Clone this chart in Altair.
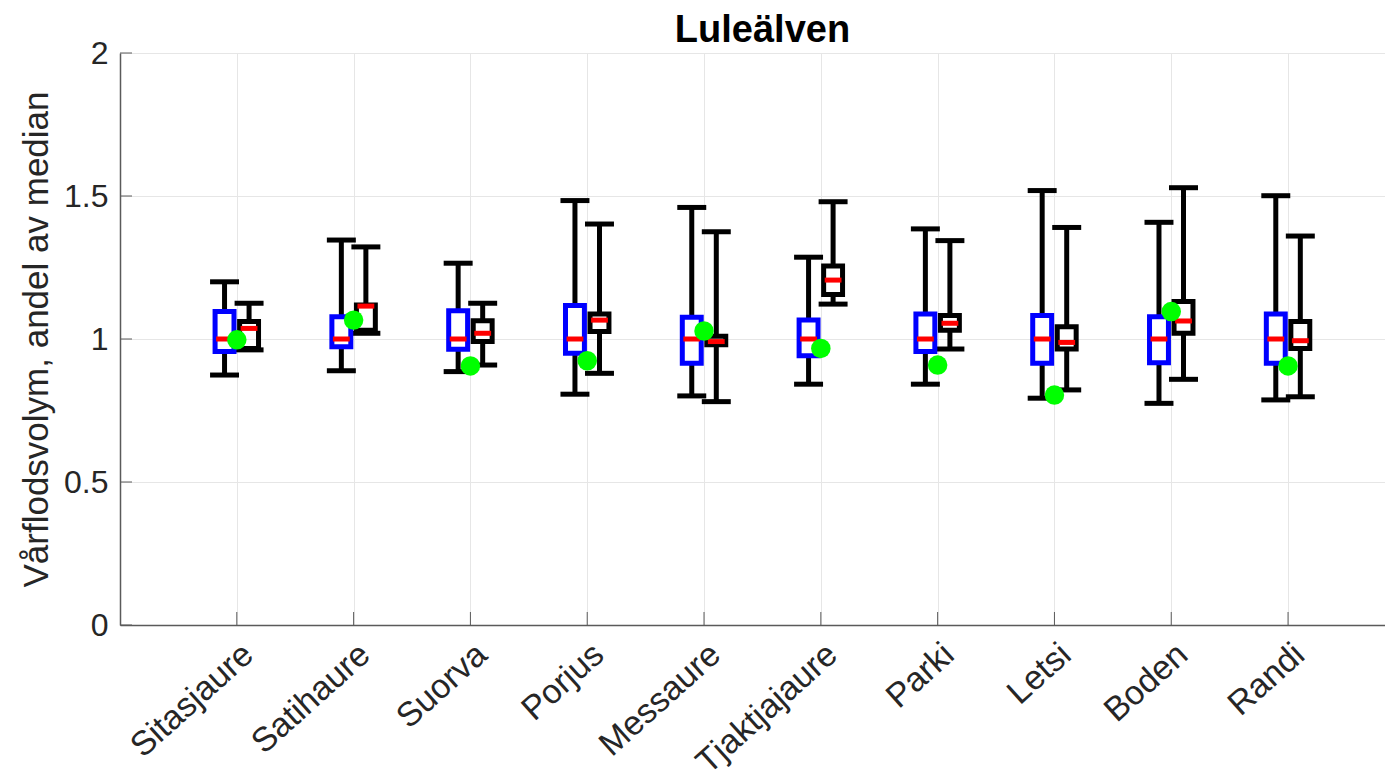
import altair as alt
import pandas as pd

stations = ["Sitasjaure", "Satihaure", "Suorva", "Porjus", "Messaure",
            "Tjaktjajaure", "Parki", "Letsi", "Boden", "Randi"]

# reference period (blue boxes)
ref_lo = [0.874, 0.889, 0.886, 0.807, 0.801, 0.842, 0.842, 0.793, 0.775, 0.787]
ref_q1 = [0.956, 0.973, 0.964, 0.950, 0.915, 0.941, 0.956, 0.915, 0.917, 0.915]
ref_med = [1.000, 1.000, 1.000, 1.000, 1.000, 1.000, 1.000, 1.000, 1.000, 1.000]
ref_q3 = [1.096, 1.078, 1.099, 1.117, 1.076, 1.066, 1.087, 1.082, 1.078, 1.087]
ref_hi = [1.200, 1.346, 1.265, 1.484, 1.460, 1.286, 1.385, 1.519, 1.408, 1.501]

# comparison period (black boxes)
cmp_lo = [0.962, 1.020, 0.909, 0.880, 0.781, 1.122, 0.965, 0.822, 0.859, 0.798]
cmp_q1 = [0.967, 1.031, 0.991, 1.026, 0.980, 1.156, 1.031, 0.965, 1.020, 0.967]
cmp_med = [1.037, 1.115, 1.020, 1.066, 0.991, 1.206, 1.055, 0.988, 1.063, 0.994]
cmp_q3 = [1.061, 1.119, 1.064, 1.087, 1.010, 1.255, 1.082, 1.043, 1.131, 1.061]
cmp_hi = [1.125, 1.322, 1.125, 1.402, 1.375, 1.480, 1.344, 1.390, 1.529, 1.360]

# single observed year (green dots)
obs = [0.997, 1.066, 0.906, 0.924, 1.028, 0.967, 0.909, 0.804, 1.096, 0.906]

y_ticks = [0, 0.5, 1, 1.5, 2]
x_ticks = list(range(1, len(stations) + 1))

OFF = 0.105
BOX_HALF = 0.081
CAP_HALF = 0.124
MED_HALF = 0.072

rows = []
for i, name in enumerate(stations):
    for grp, off, col, lo, q1, md, q3, hi in [
        ("ref", -OFF, "#0000ff", ref_lo[i], ref_q1[i], ref_med[i], ref_q3[i], ref_hi[i]),
        ("cmp", OFF, "#000000", cmp_lo[i], cmp_q1[i], cmp_med[i], cmp_q3[i], cmp_hi[i]),
    ]:
        xc = i + 1 + off
        rows.append(dict(station=name, group=grp, col=col, xc=xc,
                         bl=xc - BOX_HALF, br=xc + BOX_HALF,
                         cl=xc - CAP_HALF, cr=xc + CAP_HALF,
                         ml=xc - MED_HALF, mr=xc + MED_HALF,
                         lo=lo, q1=q1, med=md, q3=q3, hi=hi))
df = pd.DataFrame(rows)
df_obs = pd.DataFrame({"pos": x_ticks, "obs": obs})

XMAX = 10.83
W, H = 1265, 572

xscale = alt.Scale(domain=[0, XMAX], nice=False, zero=False)
yscale = alt.Scale(domain=[0, 2], nice=False, zero=False)

label_arr = "[" + ",".join("'%s'" % s for s in stations) + "]"

xaxis = alt.Axis(values=x_ticks, labelExpr=label_arr + "[datum.value-1]",
                 title=None, grid=True, gridColor="#e6e6e6", gridWidth=1,
                 ticks=True, tickSize=0, labelAngle=-42, labelAlign="right",
                 labelBaseline="top", labelPadding=12, labelFontSize=34,
                 labelOverlap=False, labelBound=False, labelFlush=False,
                 labelFont="Liberation Sans", labelColor="#262626",
                 domainColor="#5a5a5a", domainWidth=1.5)
yaxis = alt.Axis(values=y_ticks, labelExpr="'' + datum.value",
                 title="Vårflodsvolym, andel av median", titleFontSize=35,
                 titleFont="Liberation Sans", titleFontWeight="normal",
                 titleColor="#262626", titleAngle=-90, titleX=-84, titleY=286,
                 titleAlign="center", titleBaseline="middle",
                 grid=True, gridColor="#e6e6e6", gridWidth=1,
                 ticks=True, tickSize=0, labelPadding=12, labelFontSize=32,
                 labelOverlap=False, labelFlush=False,
                 labelFont="Liberation Sans", labelColor="#262626",
                 domainColor="#5a5a5a", domainWidth=1.5)

base = alt.Chart(df)

axes_holder = alt.Chart(df_obs).mark_point(opacity=0).encode(
    x=alt.X("pos:Q", scale=xscale, axis=xaxis),
    y=alt.Y("obs:Q", scale=yscale, axis=yaxis),
)

whisk_lo = base.mark_rule(color="black", strokeWidth=5).encode(
    x=alt.X("xc:Q", scale=xscale), y=alt.Y("lo:Q", scale=yscale), y2="q1:Q")
whisk_hi = base.mark_rule(color="black", strokeWidth=5).encode(
    x=alt.X("xc:Q", scale=xscale), y=alt.Y("q3:Q", scale=yscale), y2="hi:Q")
cap_lo = base.mark_rule(color="black", strokeWidth=5).encode(
    x=alt.X("cl:Q", scale=xscale), x2="cr:Q", y=alt.Y("lo:Q", scale=yscale))
cap_hi = base.mark_rule(color="black", strokeWidth=5).encode(
    x=alt.X("cl:Q", scale=xscale), x2="cr:Q", y=alt.Y("hi:Q", scale=yscale))
boxes = base.mark_rect(fill="transparent", strokeWidth=5).encode(
    x=alt.X("bl:Q", scale=xscale), x2="br:Q",
    y=alt.Y("q1:Q", scale=yscale), y2="q3:Q",
    stroke=alt.Stroke("col:N", scale=None))
medians = base.mark_rule(color="#ff0000", strokeWidth=5).encode(
    x=alt.X("ml:Q", scale=xscale), x2="mr:Q", y=alt.Y("med:Q", scale=yscale))
points = alt.Chart(df_obs).mark_circle(color="#00ff00", opacity=1, size=380).encode(
    x=alt.X("pos:Q", scale=xscale), y=alt.Y("obs:Q", scale=yscale))

# inward axis ticks (MATLAB style)
xtick_df = pd.DataFrame({"pos": x_ticks, "a": [0.0] * len(x_ticks),
                         "b": [13 / H * 2] * len(x_ticks)})
ytick_df = pd.DataFrame({"val": y_ticks, "a": [0.0] * len(y_ticks),
                         "b": [12 / W * XMAX] * len(y_ticks)})
xticks_in = alt.Chart(xtick_df).mark_rule(color="#5a5a5a", strokeWidth=1).encode(
    x=alt.X("pos:Q", scale=xscale), y=alt.Y("a:Q", scale=yscale), y2="b:Q")
yticks_in = alt.Chart(ytick_df).mark_rule(color="#5a5a5a", strokeWidth=1).encode(
    y=alt.Y("val:Q", scale=yscale), x=alt.X("a:Q", scale=xscale), x2="b:Q")

chart = alt.layer(
    axes_holder, xticks_in, yticks_in,
    whisk_lo, whisk_hi, cap_lo, cap_hi, boxes, medians, points
).properties(
    width=W, height=H,
    title=alt.TitleParams("Luleälven", fontSize=38, fontWeight="bold",
                          font="Liberation Sans", color="black",
                          anchor="middle", frame="group", baseline="bottom",
                          offset=10, dx=10, dy=61),
    autosize=alt.AutoSizeParams(type="none"),
    padding={"left": 120, "top": 53, "right": 0, "bottom": 158},
).configure_view(stroke=None).configure(background="white")

chart.save("out.html", embed_options={"renderer": "svg", "actions": False})
